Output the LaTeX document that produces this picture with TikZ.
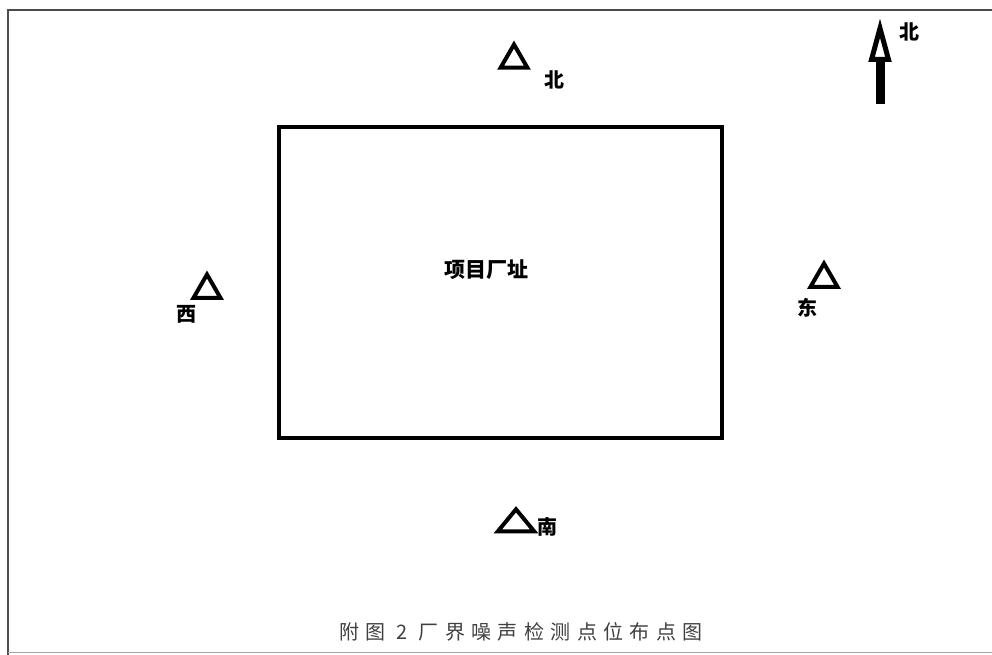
\documentclass[tikz,border=0pt]{standalone}
\usepackage{fontspec}
\setmainfont{Noto Sans CJK SC}
\newfontfamily\capfont[LetterSpace=32]{Noto Sans CJK SC}
\usepackage{xcolor}
\usepackage{tikz}
\usetikzlibrary{shapes.geometric, arrows.meta, positioning}

\begin{document}
\begin{tikzpicture}[
    x=1pt, y=-1pt,
    site/.style={rectangle, draw, line width=4pt, minimum width=443pt, minimum height=311pt, inner sep=0pt},
    point/.style={regular polygon, regular polygon sides=3, draw, line width=4pt, minimum size=31pt, inner sep=0pt},
    lbl/.style={font=\fontsize{20}{20}\selectfont\bfseries, inner sep=0pt},
    frame/.style={draw=black!70, line width=1.2pt}
]
\useasboundingbox (0,0) rectangle (992,655);

% Page frame
\coordinate (tl) at (8,10);
\coordinate (tr) at (992,10);
\coordinate (bl) at (8,655);
\draw [frame] (tr) -- (tl) -- (bl);
\draw [draw=black!35, line width=1pt] (8,652) -- (992,652);

% Plant site
\node [site] (plant) at (500.5,282.5) {};
\node [font=\fontsize{21}{21}\selectfont\bfseries] (name) at (486,270) {项目厂址};

% Monitoring points
\node [point] (pn) at (514,60) {};
\node [lbl] (ln) at (554,80) {北};
\node [point] (pw) at (207,290) {};
\node [lbl] (lw) at (186,314) {西};
\node [point] (pe) at (824,279) {};
\node [lbl] (le) at (807,308) {东};
\node [point, minimum size=42pt, yscale=0.7] (ps) at (516,524) {};
\node [lbl] (ls) at (547,527) {南};

% North arrow
\coordinate (arrbot) at (880,104);
\coordinate (arrtop) at (880,18);
\draw [line width=9pt, -{Triangle[length=44pt, width=22pt, open, line width=5pt]}] (arrbot) -- (arrtop);
\node [lbl] (lnorth) at (909,32) {北};

% Caption
\node [font=\capfont\fontsize{20}{20}\selectfont\color{black!75}] (cap) at (521,632) {附图 2 厂界噪声检测点位布点图};
\end{tikzpicture}
\end{document}
